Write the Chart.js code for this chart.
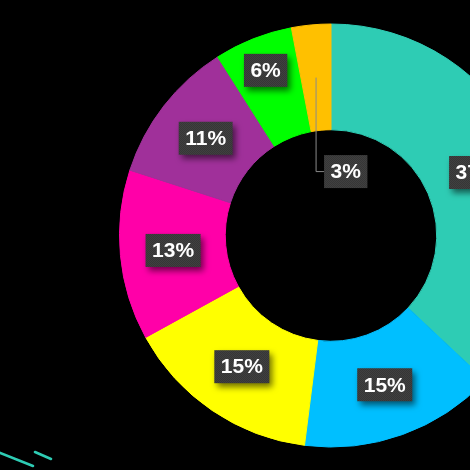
<!DOCTYPE html>
<html>
<head>
<meta charset="utf-8">
<script src="https://cdn.jsdelivr.net/npm/chart.js@4/dist/chart.umd.min.js"></script>
<style>
  html, body { margin: 0; padding: 0; background: #000; overflow: hidden; }
  #wrap { position: absolute; left: 0; top: 0; width: 662px; height: 471px; }
</style>
</head>
<body>
<div id="wrap"><canvas id="myCanvasShare" width="662" height="471"></canvas></div>
<script>
/*
*Chart data
*/
const categories = ['A', 'B', 'C', 'D', 'E', 'F', 'G'];
const shares = [37, 15, 15, 13, 11, 6, 3];
const sliceColors = ['#2ECCB4', '#00BFFF', '#FFFF00', '#FF00A8', '#A0309A', '#00FF00', '#FFC000'];

/*
*Small checkered fill used behind the labels
*/
function makeBoxPattern(ctx){
    const c = document.createElement('canvas');
    c.width = 2; c.height = 2;
    const p = c.getContext('2d');
    p.fillStyle = '#404040'; p.fillRect(0, 0, 2, 2);
    p.fillStyle = '#363636'; p.fillRect(0, 0, 1, 1); p.fillRect(1, 1, 1, 1);
    return ctx.createPattern(c, 'repeat');
}

/*
*Draw the percent boxes
*narrow slices get their box pushed outward, tiny ones drop into the hole with a leader line
*/
const boxLabels = {
    id: 'boxLabels',
    afterDatasetsDraw(chart){
        const ctx = chart.ctx;
        const meta = chart.getDatasetMeta(0);
        const data = chart.data.datasets[0].data;
        const fill = makeBoxPattern(ctx);
        ctx.save();
        ctx.font = 'bold 21px "Liberation Sans", Arial, sans-serif';
        ctx.textAlign = 'center';
        ctx.textBaseline = 'middle';
        meta.data.forEach((arc, i) => {
            const pt = arc.getCenterPoint();
            const text = data[i] + '%';
            const w = ctx.measureText(text).width + 13;
            const h = 33;
            let cx = pt.x, cy = pt.y;
            if (data[i] < 5) {
                cy = pt.y + 94;
                cx = pt.x + 8 + w / 2;
                ctx.strokeStyle = '#8a8a8a';
                ctx.lineWidth = 1;
                ctx.beginPath();
                ctx.moveTo(pt.x, pt.y);
                ctx.lineTo(pt.x, cy);
                ctx.lineTo(pt.x + 8, cy);
                ctx.stroke();
            } else if (data[i] < 8) {
                const a = (arc.startAngle + arc.endAngle) / 2;
                const r = (arc.innerRadius + arc.outerRadius) / 2 + 19;
                cx = arc.x + Math.cos(a) * r;
                cy = arc.y + Math.sin(a) * r;
            }
            ctx.save();
            ctx.shadowColor = 'rgba(0,0,0,0.55)';
            ctx.shadowOffsetX = 3;
            ctx.shadowOffsetY = 4;
            ctx.shadowBlur = 6;
            ctx.fillStyle = fill;
            ctx.fillRect(cx - w / 2, cy - h / 2, w, h);
            ctx.restore();
            ctx.fillStyle = '#ffffff';
            ctx.fillText(text, cx, cy + 1);
        });
        ctx.restore();
    }
};

/*
*Decorative strokes at the bottom left corner
*/
const cornerStrokes = {
    id: 'cornerStrokes',
    afterDraw(chart){
        const ctx = chart.ctx;
        ctx.save();
        ctx.strokeStyle = sliceColors[0];
        ctx.lineWidth = 2.5;
        ctx.lineCap = 'round';
        ctx.beginPath();
        ctx.moveTo(-2, 452); ctx.lineTo(33, 466);
        ctx.moveTo(35, 452); ctx.lineTo(51, 459);
        ctx.stroke();
        ctx.restore();
    }
};

var ctx = document.getElementById('myCanvasShare').getContext('2d');
var myChart = new Chart(ctx, {
    type: 'doughnut',
    data: {
        labels: categories,
        datasets: [{
            data: shares,
            backgroundColor: sliceColors,
            borderColor: sliceColors,
            borderWidth: 1
        }]
    },
    options: {
        responsive: false,
        animation: false,
        cutout: '50%',
        layout: { padding: { top: 23.5, bottom: 23.5, left: 0, right: 0 } },
        plugins: {
            legend: { display: false },
            tooltip: { enabled: false }
        }
    },
    plugins: [boxLabels, cornerStrokes]
});
</script>
</body>
</html>
